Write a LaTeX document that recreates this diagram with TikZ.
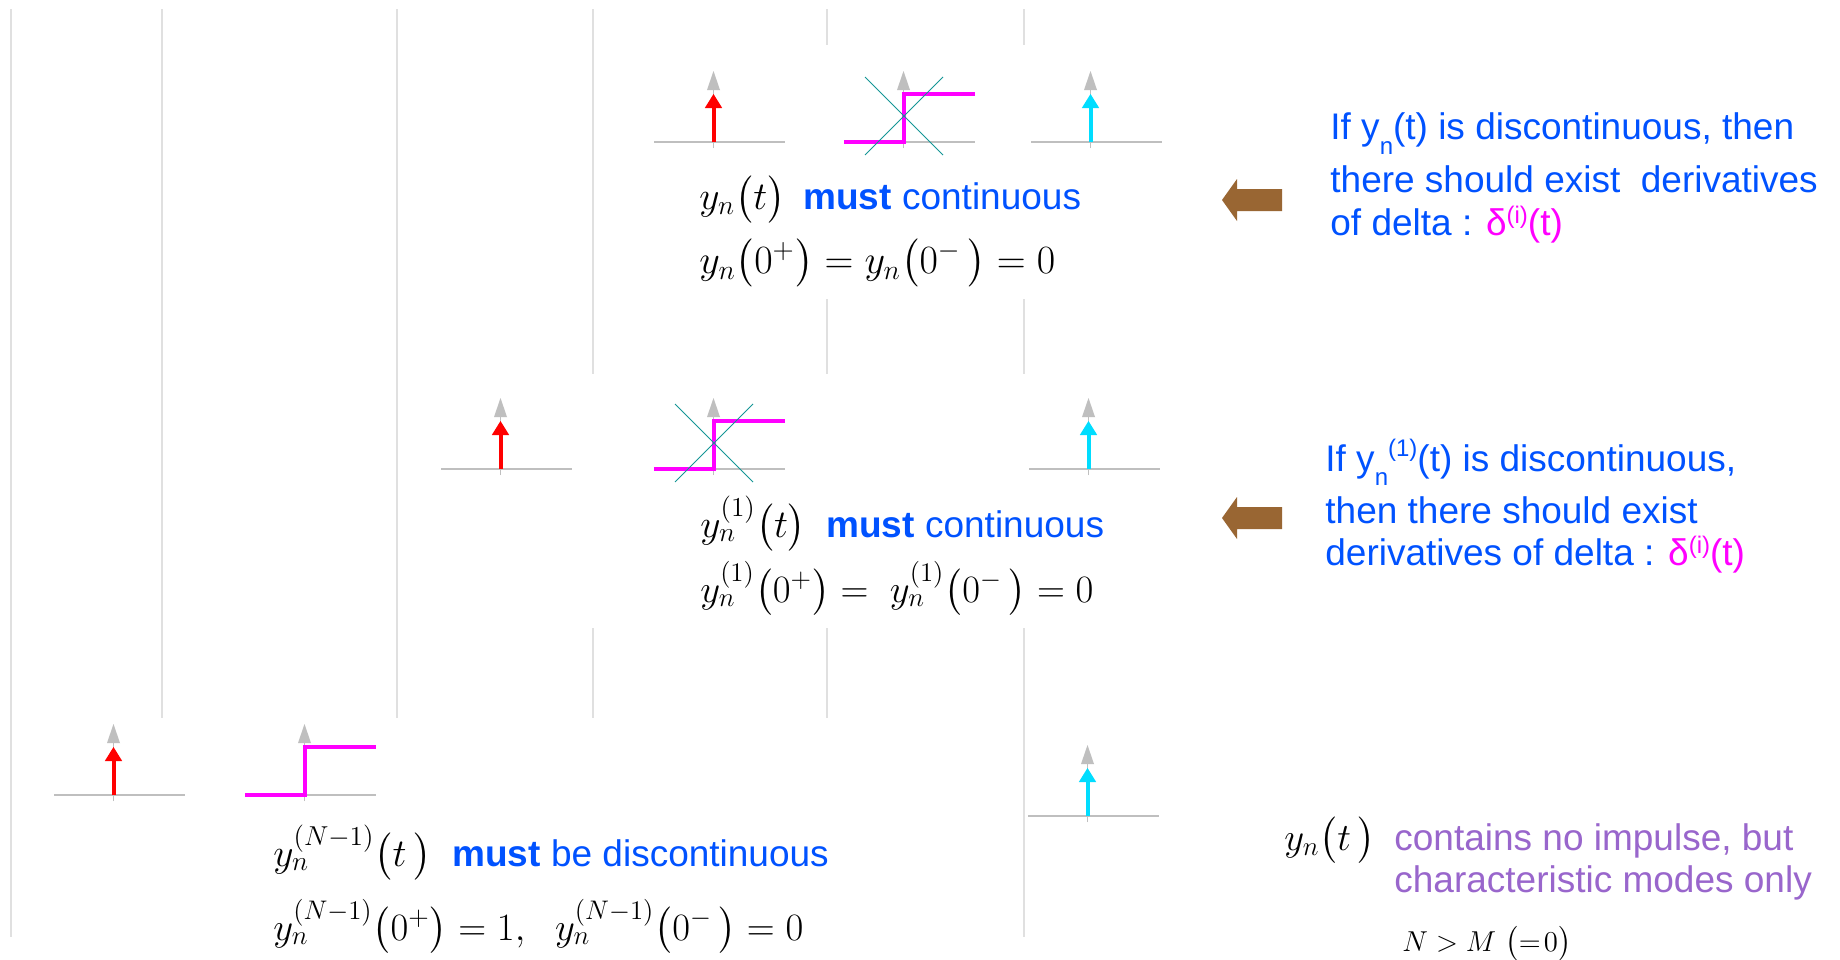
\documentclass[tikz,border=0pt]{standalone}
\usepackage{amsmath}
\usepackage[no-math]{fontspec}
\newfontfamily\arial{Liberation Sans}
\definecolor{gridc}{RGB}{224,224,224}
\definecolor{axisc}{RGB}{191,191,191}
\definecolor{myblue}{RGB}{0,82,255}
\definecolor{mymag}{RGB}{255,0,255}
\definecolor{mycyan}{RGB}{0,221,255}
\definecolor{myred}{RGB}{255,0,0}
\definecolor{myteal}{RGB}{20,150,150}
\definecolor{mypurple}{RGB}{153,102,204}
\definecolor{mybrown}{RGB}{153,102,51}
\tikzset{
  gridln/.style={draw=gridc, line width=0.75pt},
  axisln/.style={draw=axisc, line width=1pt},
  stemgray/.style={draw=axisc, line width=0.8pt},
  stepln/.style={draw=mymag, line width=2pt, line join=miter},
  crossln/.style={draw=myteal, line width=0.5pt},
  bluetxt/.style={inner sep=0pt, anchor=base west, text=myblue, font=\arial\fontsize{18.5}{22}\selectfont},
  purptxt/.style={inner sep=0pt, anchor=base west, text=mypurple, font=\arial\fontsize{18.5}{22}\selectfont},
  mathtxt/.style={inner sep=0pt, anchor=base west, text=black, font=\fontsize{17.28}{20}\selectfont},
  brownarrow/.style={fill=mybrown},
}
\newcommand{\impplot}[3]{%
  \draw[axisln] (#1,#2) -- ++(131,0);
  \draw[stemgray] (#1+59.5,#2+6) -- (#1+59.5,#2-54);
  \fill[axisc] (#1+59.5,#2-71) -- (#1+53,#2-52) -- (#1+66,#2-52) -- cycle;
  \draw[#3, line width=2pt] (#1+59.5,#2) -- (#1+59.5,#2-36);
  \fill[#3] (#1+59.5,#2-48) -- (#1+50.8,#2-34) -- (#1+68.2,#2-34) -- cycle;
}
\newcommand{\stepplot}[2]{%
  \draw[axisln] (#1,#2) -- ++(131,0);
  \draw[stemgray] (#1+59.5,#2+6) -- (#1+59.5,#2-54);
  \fill[axisc] (#1+59.5,#2-71) -- (#1+53,#2-52) -- (#1+66,#2-52) -- cycle;
  \draw[stepln] (#1,#2) -- (#1+59.5,#2) -- (#1+59.5,#2-48) -- (#1+131,#2-48);
}
\newcommand{\crossmark}[2]{%
  \draw[crossln] (#1-39,#2-39) -- (#1+39,#2+39);
  \draw[crossln] (#1-39,#2+39) -- (#1+39,#2-39);
}
\newcommand{\smallup}[2]{\raisebox{#1}{\fontsize{12}{13}\selectfont #2}}
\newcommand{\bigmath}[2]{\scalebox{#1}{$#2$}}
\begin{document}
\begin{tikzpicture}[x=0.5pt,y=-0.5pt]
\useasboundingbox (0,0) rectangle (1840,959);
\fill[white] (0,0) rectangle (1840,959);
% background grid lines
\draw[gridln] (11,9) -- (11,937);
\draw[gridln] (162,9) -- (162,718);
\draw[gridln] (397,9) -- (397,718);
\draw[gridln] (593,9) -- (593,374);
\draw[gridln] (593,628) -- (593,718);
\draw[gridln] (827,9) -- (827,45);
\draw[gridln] (827,299) -- (827,374);
\draw[gridln] (827,628) -- (827,718);
\draw[gridln] (1024,9) -- (1024,45);
\draw[gridln] (1024,299) -- (1024,374);
\draw[gridln] (1024,628) -- (1024,937);

% top row
\impplot{654}{142}{myred}
\stepplot{844}{142}
\crossmark{904}{116}
\impplot{1031}{142}{mycyan}
\node[mathtxt] (m1a) at (699,209) {\bigmath{1.14}{y_n\bigl(t\bigr)}};
\node[bluetxt] (t1a) at (803,209) {\textbf{must} continuous};
\node[mathtxt] (m1b) at (699,273) {\bigmath{1.16}{y_n\bigl(0^{+}\bigr) = y_n\bigl(0^{-}\,\bigr) = 0}};

% middle row
\impplot{441}{469}{myred}
\stepplot{654}{469}
\crossmark{714}{443}
\impplot{1029}{469}{mycyan}
\node[mathtxt] (m2a) at (700,537) {\bigmath{1.14}{y_n^{(1)}\bigl(t\bigr)}};
\node[bluetxt] (t2a) at (826,537) {\textbf{must} continuous};
\node[mathtxt] (m2b) at (700,602) {\bigmath{1.12}{y_n^{(1)}\bigl(0^{+}\bigr) = \;y_n^{(1)}\bigl(0^{-}\,\bigr) = 0}};

% bottom row
\impplot{54}{795}{myred}
\stepplot{245}{795}
\impplot{1028}{816}{mycyan}
\node[mathtxt] (m3a) at (273,866) {\bigmath{1.14}{y_n^{(N-1)}\bigl(t\,\bigr)}};
\node[bluetxt] (t3a) at (452,866) {\textbf{must} be discontinuous};
\node[mathtxt] (m3b) at (273,940) {\bigmath{1.12}{y_n^{(N-1)}\bigl(0^{+}\bigr) = 1,\ \ y_n^{(N-1)}\bigl(0^{-}\,\bigr) = 0}};

% brown arrows
\fill[brownarrow] (1222,200) -- (1237,179) -- (1237,189) -- (1282,189) -- (1282,211) -- (1237,211) -- (1237,221) -- cycle;
\fill[brownarrow] (1222,518) -- (1237,497) -- (1237,507) -- (1282,507) -- (1282,529) -- (1237,529) -- (1237,539) -- cycle;

% right text top
\node[bluetxt] (r1a) at (1330,139) {If y\smallup{-7.5pt}{n}(t) is discontinuous, then};
\node[bluetxt] (r1b) at (1330,192) {there should exist \ derivatives};
\node[bluetxt] (r1c) at (1330,235) {of delta : \textcolor{mymag}{δ\smallup{6pt}{(i)}(t)}};

% right text middle
\node[bluetxt] (r2a) at (1325,471) {If y\smallup{-7pt}{n}\smallup{7.5pt}{(1)}(t) is discontinuous,};
\node[bluetxt] (r2b) at (1325,523) {then there should exist};
\node[bluetxt] (r2c) at (1325,565) {derivatives of delta : \textcolor{mymag}{δ\smallup{6pt}{(i)}(t)}};

% right text bottom
\node[mathtxt] (m4a) at (1284,850) {\bigmath{1.12}{y_n\bigl(t\,\bigr)}};
\node[purptxt] (p4a) at (1394,850) {contains no impulse, but};
\node[purptxt] (p4b) at (1394,892) {characteristic modes only};
\node[inner sep=0pt, anchor=base west, font=\fontsize{14.4}{17}\selectfont] (nm) at (1402,951) {$N > M\ \bigl(=\!0\bigr)$};
\end{tikzpicture}
\end{document}
